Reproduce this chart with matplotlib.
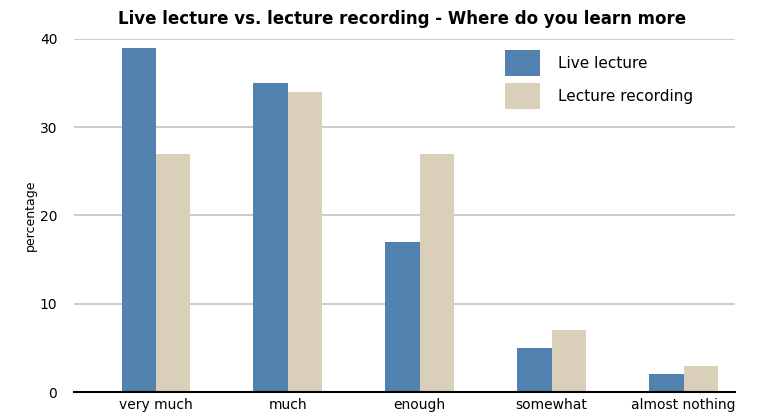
import numpy as np
from matplotlib import pyplot as plt

categories = ['very much', 'much', 'enough', 'somewhat', 'almost nothing']
live = [39, 35, 17, 5, 2]
recording = [27, 34, 27, 7, 3]

blue = '#5282b0'
beige = '#dacfb9'

fig = plt.figure(figsize=(7.59, 4.18), dpi=100)
ax = fig.add_axes([0.0975, 0.062, 0.871, 0.845])

x = np.arange(len(categories))
w = 0.26
ax.bar(x - w / 2, live, w, color=blue, label='Live lecture', zorder=3)
ax.bar(x + w / 2, recording, w, color=beige, label='Lecture recording', zorder=3)

ax.set_xlim(-0.62, 4.39)
ax.set_ylim(0, 40)
ax.set_yticks([0, 10, 20, 30, 40])
ax.set_xticks(x)
ax.set_xticklabels(categories, fontsize=10)
ax.tick_params(axis='y', labelsize=10, length=0, pad=12)
ax.tick_params(axis='x', length=0, pad=4)
ax.yaxis.grid(True, color='#c4c4c4', linewidth=1.2, zorder=0)
for s in ['top', 'right', 'left']:
    ax.spines[s].set_visible(False)
ax.spines['bottom'].set_linewidth(1.5)
ax.spines['bottom'].set_zorder(4)

ax.set_ylabel('percentage', fontsize=9, labelpad=2)
fig.text(0.53, 0.955, 'Live lecture vs. lecture recording - Where do you learn more',
         ha='center', va='center', fontsize=12, fontweight='bold')

# legend: big square swatches in the upper right
leg = ax.legend(loc='upper left', bbox_to_anchor=(0.631, 1.007), frameon=False,
                fontsize=11, handlelength=2.3, handleheight=2.2, labelspacing=0.5,
                handletextpad=1.2)

fig.savefig('out.png', dpi=100)
